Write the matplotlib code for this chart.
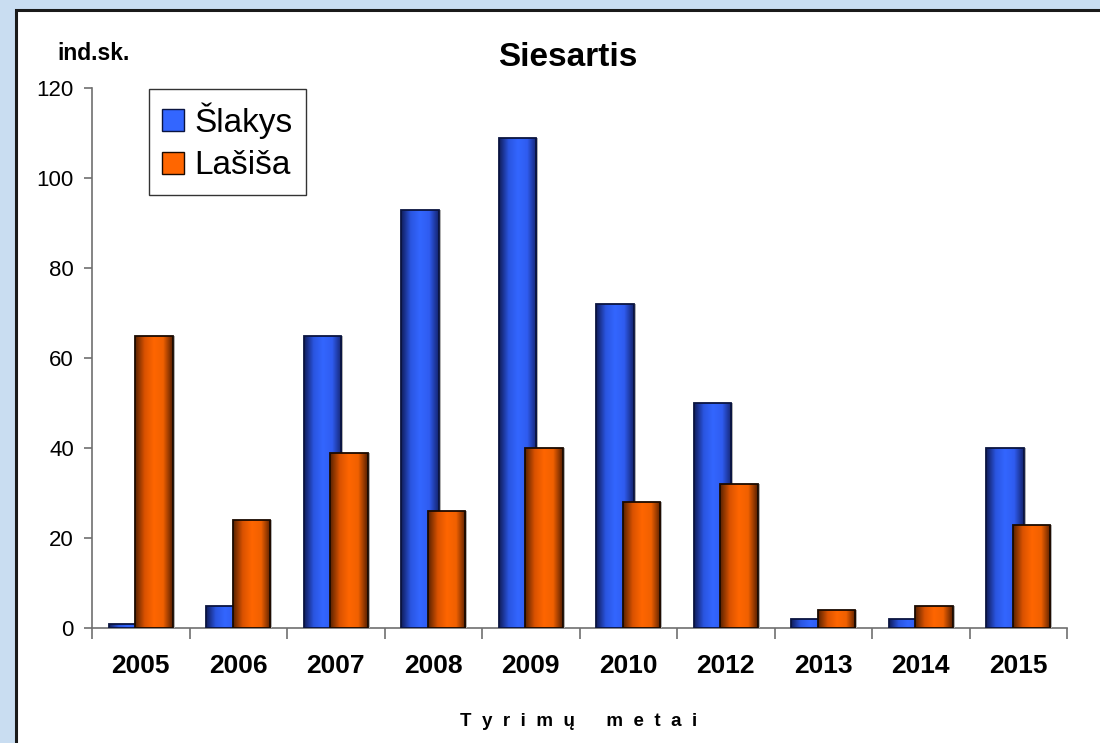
import matplotlib.pyplot as plt
import numpy as np
from matplotlib.patches import Rectangle, Patch
from matplotlib.colors import LinearSegmentedColormap

plt.rcParams['font.family'] = ['Liberation Sans', 'DejaVu Sans']

# Duomenys
metai = ['2005', '2006', '2007', '2008', '2009', '2010', '2012', '2013', '2014', '2015']
slakys = [1, 5, 65, 93, 109, 72, 50, 2, 2, 40]
lasisa = [65, 24, 39, 26, 40, 28, 32, 4, 5, 23]

fig = plt.figure(figsize=(11, 7.43), dpi=100)
fig.patch.set_facecolor('#c9ddf1')

# baltas fonas su rėmeliu
panel = Rectangle((16 / 1100, -0.05), 1.1, 1 - 10 / 743 + 0.05, transform=fig.transFigure,
                  facecolor='white', edgecolor='#1a1a1a', linewidth=2.2, zorder=-5)
fig.patches.append(panel)

ax = fig.add_axes([92 / 1100, 1 - 628 / 743, (1067 - 92) / 1100, (628 - 88) / 743])
ax.set_zorder(2)
ax.set_facecolor('none')

x = np.arange(len(metai))
w = 0.38
off = 0.136

cm_blue = LinearSegmentedColormap.from_list('b', ['#101d5c', '#2a55e0', '#3366ff', '#2f5cf0', '#142470'])
cm_orange = LinearSegmentedColormap.from_list('o', ['#5a2200', '#d95200', '#ff6600', '#f06000', '#5a2000'])
grad = np.linspace(0, 1, 64).reshape(1, -1)

def gradient_bars(pos, vals, cmap, edge, z):
    # šešėlis
    ax.bar(pos + 0.022, vals, w, color='#b0b0b0', linewidth=0, zorder=z - 0.5)
    bars = ax.bar(pos, vals, w, color='none', edgecolor=edge, linewidth=1.3, zorder=z + 0.2)
    for r in bars:
        x0, y0 = r.get_x(), r.get_y()
        im = ax.imshow(grad, cmap=cmap, aspect='auto', zorder=z,
                       extent=(x0, x0 + r.get_width(), y0, y0 + r.get_height()))
        im.set_clip_path(r)
    return bars

gradient_bars(x - off, slakys, cm_blue, '#0a1440', 3)
gradient_bars(x + off, lasisa, cm_orange, '#1a0a00', 5)

ax.set_xlim(-0.5, len(metai) - 0.5)
ax.set_ylim(0, 120)
ax.set_yticks(range(0, 121, 20))
ax.set_xticks(x)
ax.set_xticklabels(metai, fontsize=19, fontweight='bold')
ax.set_xticks(np.arange(-0.5, len(metai)), minor=True)
ax.tick_params(axis='x', which='major', length=0, pad=19)
ax.tick_params(axis='x', which='minor', length=8, direction='out', color='#707070', width=1.2)
ax.tick_params(axis='y', length=6, color='#707070', width=1.2, labelsize=16, pad=7)
for s in ['top', 'right']:
    ax.spines[s].set_visible(False)
for s in ['left', 'bottom']:
    ax.spines[s].set_color('#707070')
    ax.spines[s].set_linewidth(1.2)

fig.text(568 / 1100, 1 - 57 / 743, 'Siesartis', fontsize=24, fontweight='bold', ha='center', va='center')
fig.text(94 / 1100, 1 - 53 / 743, 'ind.sk.', fontsize=16.5, fontweight='bold', ha='center', va='center')
fig.text(579 / 1100, 1 - 722 / 743, 'T  y  r  i  m  ų      m  e  t  a  i', fontsize=13.5, fontweight='bold',
         ha='center', va='center')

handles = [Patch(facecolor='#3366ff', edgecolor='#0a1440'), Patch(facecolor='#ff6600', edgecolor='#1a0a00')]
leg = ax.legend(handles, ['Šlakys', 'Lašiša'], loc='upper left', bbox_to_anchor=(149 / 1100, 1 - 89 / 743),
                bbox_transform=fig.transFigure, fontsize=24, frameon=True, fancybox=False,
                handlelength=0.65, handleheight=0.65, handletextpad=0.3, borderpad=0.4,
                labelspacing=0.35, borderaxespad=0)
leg.get_frame().set_edgecolor('black')
leg.get_frame().set_linewidth(1.0)

fig.savefig('out.png', dpi=100, facecolor=fig.get_facecolor())
